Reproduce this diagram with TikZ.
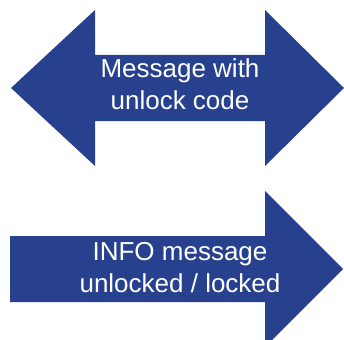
\documentclass[tikz,border=0pt]{standalone}
\usepackage{fontspec}
\setmainfont{Liberation Sans}
\usetikzlibrary{positioning}
\definecolor{msgblue}{RGB}{39,65,142}

\begin{document}
\begin{tikzpicture}[x=1pt,y=-1pt,
  arrowbody/.style={fill=msgblue},
  arrowlabel/.style={text=white,align=center,inner sep=0pt,
    font=\fontsize{26}{32}\selectfont}]

\clip (0,0) rectangle (344,339);

% double arrow
\fill[arrowbody] (11,88) -- (95,10) -- (95,55) -- (265,55) -- (265,10)
  -- (344,88) -- (265,166) -- (265,121) -- (95,121) -- (95,166) -- cycle;
\node[arrowlabel] (unlockmsg) at (180,84.5) {Message with\\unlock code};

% single arrow
\fill[arrowbody] (10,236) -- (265,236) -- (265,191) -- (343,269)
  -- (265,347) -- (265,302) -- (10,302) -- cycle;
\node[arrowlabel] (infomsg) at (180,268) {INFO message\\unlocked / locked};

\end{tikzpicture}
\end{document}
